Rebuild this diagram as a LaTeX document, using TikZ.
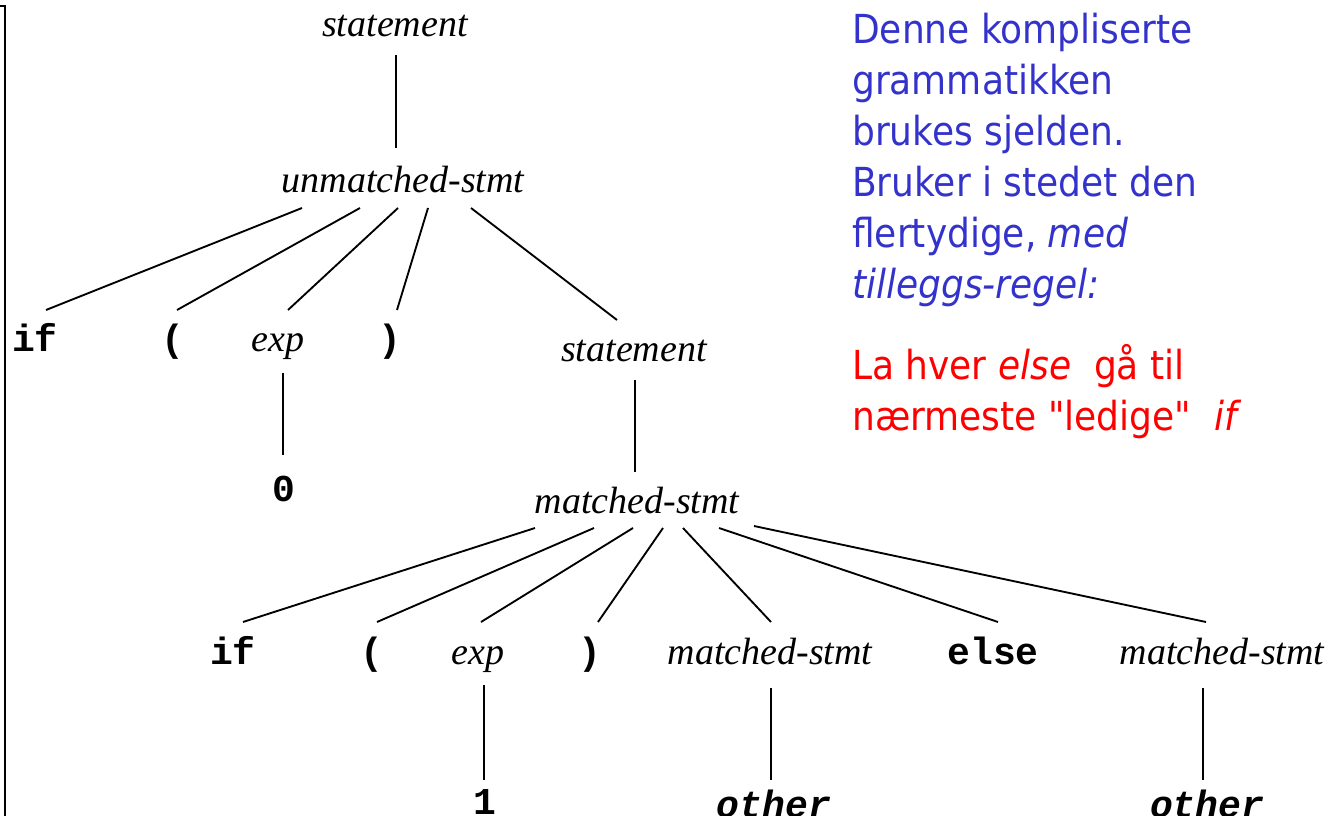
\documentclass[tikz,border=0pt]{standalone}
\usepackage{fontspec}
\usetikzlibrary{calc}
\setmainfont{Liberation Serif}
\newfontfamily\tokfont{Liberation Mono}
\newfontfamily\notefont{DejaVu Sans Condensed}
\definecolor{noteblue}{RGB}{51,51,204}
\definecolor{notered}{RGB}{255,0,0}
\tikzset{
    nt/.style={font=\fontsize{28.5}{30}\selectfont\itshape, anchor=base},
    tok/.style={font=\fontsize{28.5}{30}\selectfont\tokfont\bfseries, anchor=base},
    tokit/.style={font=\fontsize{28.5}{30}\selectfont\tokfont\bfseries\itshape, anchor=base},
    edge/.style={line width=1.4pt},
    note/.style={font=\fontsize{30}{38.25}\selectfont\notefont, anchor=north west, align=left, inner sep=0pt}
}
\begin{document}
\begin{tikzpicture}[x=0.75pt,y=-0.75pt]
    \useasboundingbox (0,0) rectangle (1332,816);
    \draw[line width=1.5pt] (0,6.5) -- (5,6.5) -- (5,816);

    \node[nt] (st1) at (395,37) {statement};
    \node[nt] (um) at (403,193) {unmatched-stmt};
    \node[tok] (if1) at (35,352) {if};
    \node[tok] (lp1) at (173,352) {(};
    \node[nt] (exp1) at (278,352) {exp};
    \node[tok] (rp1) at (390,352) {)};
    \node[nt] (st2) at (634,362) {statement};
    \node[tok] (zero) at (284,502) {0};
    \node[nt] (ms1) at (637,513) {matched-stmt};
    \node[tok] (if2) at (233,664) {if};
    \node[tok] (lp2) at (372,664) {(};
    \node[nt] (exp2) at (478,664) {exp};
    \node[tok] (rp2) at (590,664) {)};
    \node[nt] (ms2) at (770,664) {matched-stmt};
    \node[tok] (else) at (993,664) {else};
    \node[nt] (ms3) at (1222,664) {matched-stmt};
    \node[tok] (one) at (485,814) {1};
    \node[tokit] (oth1) at (774,817) {other};
    \node[tokit] (oth2) at (1207,817) {other};

    \draw[edge] ($(st1.base)+(1,18)$) -- ($(um.base)+(-7,-45)$);
    \foreach \c/\a/\b in {if1/-101/11, lp1/-43/4, exp1/-5/10, rp1/25/7}
    {
        \draw[edge] ($(um.base)+(\a,15)$) -- ($(\c.base)+(\b,-42)$);
    }
    \draw[edge] ($(um.base)+(68,15)$) -- ($(st2.base)+(-17,-42)$);
    \draw[edge] ($(exp1.base)+(5,21)$) -- ($(zero.base)+(-1,-47)$);
    \draw[edge] ($(st2.base)+(1,18)$) -- ($(ms1.base)+(-2,-41)$);

    \foreach \c/\a/\b in {if2/-102/10, lp2/-43/5, exp2/-4/3, rp2/26/8, ms2/46/1, else/82/5}
    {
        \draw[edge] ($(ms1.base)+(\a,15)$) -- ($(\c.base)+(\b,-42)$);
    }
    \draw[edge] ($(ms1.base)+(117,13)$) -- ($(ms3.base)+(-16,-42)$);

    \draw[edge] ($(exp2.base)+(6,21)$) -- ($(one.base)+(-1,-34)$);
    \draw[edge] ($(ms2.base)+(1,24)$) -- ($(oth1.base)+(-3,-37)$);
    \draw[edge] ($(ms3.base)+(-19,24)$) -- ($(oth2.base)+(-4,-37)$);

    % comment text
    \node[note, text=noteblue] (blue) at (852,13)
        {Denne kompliserte\\grammatikken\\brukes sjelden.\\Bruker i stedet den\\flertydige, \textit{med}\\\textit{tilleggs-regel:}};
    \node[note, text=notered] (red) at (852,344)
        {La hver \textit{else}\ \ gå til\\nærmeste "ledige"\ \ \textit{if}};
\end{tikzpicture}
\end{document}
